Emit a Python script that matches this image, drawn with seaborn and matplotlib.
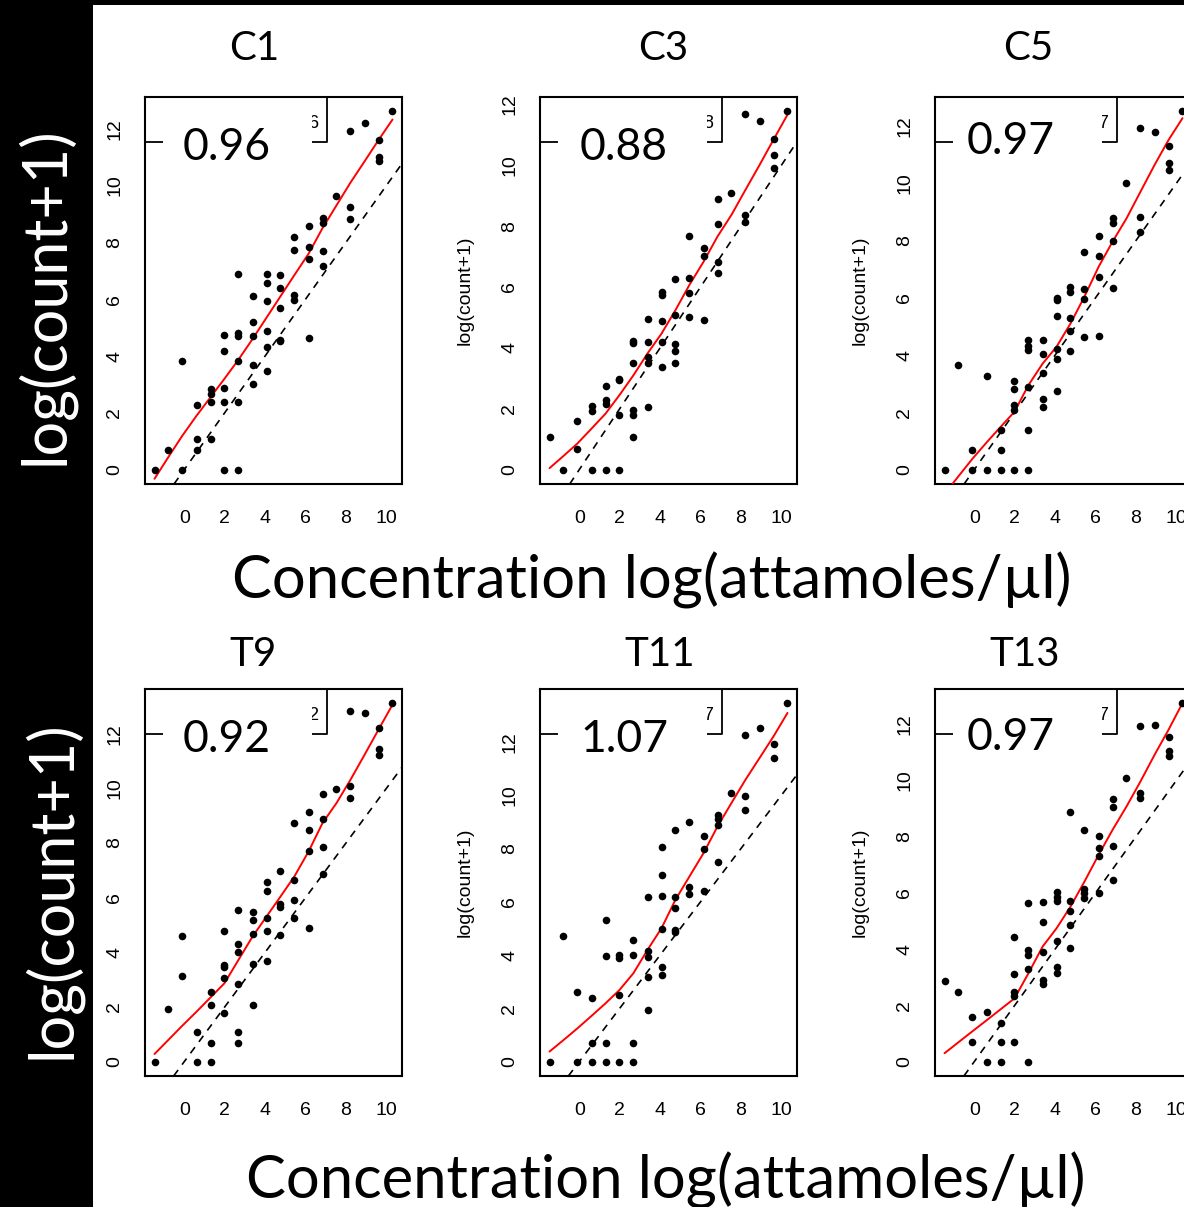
import numpy as np
import pandas as pd
import matplotlib
matplotlib.use("Agg")
import matplotlib.pyplot as plt
from matplotlib.patches import Rectangle
from matplotlib.lines import Line2D
import seaborn as sns

# ---- data -------------------------------------------------------------
# log(attamoles/ul) dilution levels of the spike-in series
CONC = [-1.47, -0.78, -0.09, 0.61, 1.30, 1.99, 2.68, 3.38, 4.07,
        4.76, 5.45, 6.15, 6.84, 7.53, 8.22, 8.92, 9.61, 10.30]

# log(count+1) observed at each level, one inner list per level
c1_counts = [[0], [0.68], [3.83, 0], [2.29, 1.09, 0.68], [2.83, 2.66, 2.39, 1.09],
             [4.74, 4.18, 2.89, 2.39, 0], [6.89, 4.80, 4.70, 3.83, 2.39, 0],
             [6.11, 5.21, 4.70, 3.68, 3.00], [6.89, 6.58, 5.95, 4.88, 4.33, 3.47],
             [6.85, 6.38, 5.68, 4.56, 4.52], [8.19, 7.72, 6.16, 5.97],
             [8.57, 7.84, 7.40, 4.62], [8.86, 8.67, 7.70, 7.17], [9.63],
             [11.93, 9.23, 8.82], [12.19], [11.60, 11.00, 10.85], [12.61]]
c3_counts = [[1.07], [0], [1.59, 0.68], [2.08, 1.93, 0], [2.76, 2.28, 2.17, 0],
             [2.98, 2.94, 1.79, 0], [4.23, 4.15, 3.49, 1.95, 1.79, 1.07],
             [4.96, 4.19, 3.71, 3.49, 2.06], [5.84, 5.73, 4.89, 4.20, 3.38],
             [6.26, 5.07, 4.12, 3.90, 3.49], [7.66, 6.31, 5.81, 5.02],
             [7.27, 7.03, 4.91], [8.90, 8.07, 6.81, 6.46], [9.09],
             [11.68, 8.37, 8.14], [11.45], [10.86, 10.35, 9.92], [11.77]]
c5_counts = [[0], [3.64], [0.68, 0], [3.27, 0], [1.37, 0.68, 0],
             [3.08, 2.83, 2.25, 2.07, 0], [4.54, 4.31, 4.17, 2.89, 1.37, 0],
             [4.54, 4.05, 3.39, 2.48, 2.19], [5.98, 5.92, 5.37, 4.23, 3.86, 2.76],
             [6.36, 6.19, 5.30, 4.85, 4.14], [7.61, 6.30, 5.97, 4.63],
             [8.16, 7.46, 6.73, 4.67], [8.78, 8.62, 7.98, 6.33], [10.00],
             [11.94, 8.81, 8.28], [11.79], [11.31, 10.70, 10.46], [12.51]]
t9_counts = [[0], [1.93], [4.58, 3.13], [1.10, 0], [2.56, 2.08, 0.70, 0],
             [4.77, 3.54, 3.45, 3.05, 1.79], [5.55, 4.31, 4.02, 2.83, 1.10, 0.70],
             [5.49, 5.19, 4.66, 3.58, 2.08], [6.56, 6.25, 5.25, 4.79, 3.67],
             [6.96, 5.77, 5.65, 4.63], [8.73, 6.63, 5.90, 5.26],
             [9.14, 8.46, 7.70, 4.90], [9.81, 8.86, 7.87, 6.87], [9.99],
             [12.84, 10.10, 9.64], [12.74], [12.20, 11.45, 11.23], [13.11]]
t11_counts = [[0], [4.72], [2.63, 0], [2.39, 0.69, 0], [5.32, 3.95, 0.69, 0],
              [4.01, 3.88, 2.51, 0], [4.57, 4.00, 0.69, 0],
              [6.18, 4.17, 3.91, 3.17, 1.94], [8.04, 7.00, 6.23, 4.97, 3.55, 3.24],
              [8.69, 6.18, 5.76, 4.95, 4.87], [8.98, 6.55, 6.29],
              [8.48, 7.98, 6.41], [9.27, 9.11, 8.88, 7.50], [10.07],
              [12.25, 9.98, 9.45], [12.51], [11.93, 11.39], [13.45]]
t13_counts = [[2.88], [2.48], [1.60, 0.69], [1.78, 0], [1.39, 0.69, 0],
              [4.45, 3.13, 2.49, 2.34, 0.69], [5.63, 3.97, 3.79, 3.28, 0],
              [5.69, 4.98, 3.91, 2.91, 2.76], [6.02, 5.87, 5.73, 4.30, 3.38, 3.14],
              [8.87, 5.72, 5.36, 4.86, 4.03], [8.24, 6.14, 5.99, 5.81],
              [8.03, 7.59, 7.32, 5.98], [9.33, 9.07, 7.68, 6.46], [10.09],
              [11.94, 9.55, 9.36], [11.98], [11.53, 11.03, 10.87], [12.74]]

# smoothed fit evaluated at each dilution level
c1_fit = [-0.32, 0.45, 1.20, 1.90, 2.55, 3.20, 3.87, 4.60, 5.35,
          6.10, 6.85, 7.60, 8.50, 9.30, 10.10, 10.85, 11.60, 12.32]
c3_fit = [0.05, 0.45, 0.86, 1.35, 1.84, 2.45, 3.10, 3.82, 4.47,
          5.24, 6.07, 6.83, 7.66, 8.37, 9.19, 10.01, 10.84, 11.66]
c5_fit = [-0.85, -0.23, 0.38, 0.95, 1.49, 2.02, 2.95, 3.70, 4.29,
          5.10, 6.04, 7.08, 7.96, 8.77, 9.70, 10.64, 11.51, 12.27]
t9_fit = [0.28, 0.80, 1.32, 1.83, 2.35, 2.87, 3.72, 4.58, 5.31,
          6.04, 6.78, 7.69, 8.73, 9.46, 10.31, 11.23, 12.15, 13.06]
t11_fit = [0.38, 0.81, 1.25, 1.72, 2.19, 2.69, 3.32, 4.20, 5.01,
           6.08, 6.95, 7.83, 8.83, 9.71, 10.58, 11.40, 12.21, 13.09]
t13_fit = [0.30, 0.69, 1.08, 1.47, 1.86, 2.25, 3.14, 4.09, 4.74,
           5.51, 6.40, 7.35, 8.24, 9.07, 9.96, 10.91, 11.80, 12.75]

SAMPLES = ["C1", "C3", "C5", "T9", "T11", "T13"]
SLOPES = ["0.96", "0.88", "0.97", "0.92", "1.07", "0.97"]
COUNTS = [c1_counts, c3_counts, c5_counts, t9_counts, t11_counts, t13_counts]
FITS = [c1_fit, c3_fit, c5_fit, t9_fit, t11_fit, t13_fit]

XTICKS = [0, 2, 4, 6, 8, 10]
YTICKS = [0, 2, 4, 6, 8, 10, 12]
XLABEL = "Concentration log(attamoles/\u00b5l)"
YLABEL = "log(count+1)"

# ---- style ------------------------------------------------------------
sns.set_theme(style="white")
plt.rcParams["font.family"] = ["Liberation Sans", "DejaVu Sans"]
BIG_FONT = ["Lato", "DejaVu Sans"]

W, H = 1184, 1207
fig = plt.figure(figsize=(W / 100, H / 100), dpi=100)
fig.patch.set_facecolor("white")


def fx(px):
    return px / W


def fy(py):
    return 1 - py / H


# black band on the left and thin strip on top
fig.add_artist(Rectangle((0, 0), fx(93), 1, transform=fig.transFigure,
                         facecolor="black", edgecolor="none", zorder=0))
fig.add_artist(Rectangle((fx(93), fy(5)), 1, 5 / H, transform=fig.transFigure,
                         facecolor="black", edgecolor="none", zorder=0))

COL_LEFT = [145, 540, 935]
ROW_TOP = [97, 689]
AX_W, AX_H = 257, 387
NUM_DX = [38, 40, 32, 38, 40, 32]   # left offset of each slope number
NUM_DY = [50, 50, 45, 50, 50, 49]   # vertical centre of each slope number
TITLE_X = [[254, 663, 1028], [253, 660, 1025]]
TITLE_Y = [49, 654]

for i, name in enumerate(SAMPLES):
    r, c = divmod(i, 3)
    left, top = COL_LEFT[c], ROW_TOP[r]
    ax = fig.add_axes([fx(left), fy(top + AX_H), AX_W / W, AX_H / H])

    rows = [(x, y) for x, ys in zip(CONC, COUNTS[i]) for y in ys]
    df = pd.DataFrame(rows, columns=["conc", "count"])

    sns.lineplot(x=CONC, y=FITS[i], color="red", linewidth=1.4, sort=False,
                 ax=ax, zorder=3)
    ax.axline((0, 0), slope=1, color="black", linewidth=1.2,
              linestyle=(0, (4.5, 4)), zorder=2)
    sns.scatterplot(data=df, x="conc", y="count", color="black", s=30,
                    linewidth=0, ax=ax, zorder=4)

    # R-style 4% padding of the data range
    xr = max(CONC) - min(CONC)
    ax.set_xlim(min(CONC) - 0.04 * xr, max(CONC) + 0.04 * xr)
    ymin, ymax = df["count"].min(), df["count"].max()
    yr = ymax - ymin
    ax.set_ylim(ymin - 0.04 * yr, ymax + 0.04 * yr)

    ax.set_xticks(XTICKS)
    ax.set_yticks(YTICKS)
    ax.set_xticklabels([str(t) for t in XTICKS])
    ax.set_yticklabels([str(t) for t in YTICKS], rotation=90, va="center")
    ax.tick_params(axis="both", direction="out", length=8.6, width=1.2,
                   color="black", labelsize=14, labelcolor="black")
    ax.tick_params(axis="x", pad=10)
    ax.tick_params(axis="y", pad=7)
    ax.set_xlabel("")
    if c == 0:
        ax.set_ylabel("")
    else:
        ax.set_ylabel(YLABEL, fontsize=14, labelpad=20, color="black")
    for sp in ax.spines.values():
        sp.set_visible(True)
        sp.set_color("black")
        sp.set_linewidth(1.5)
    ax.grid(False)

    # legend frame in the top-left corner, partly covered by the slope label
    def ax_pt(dx, dy):
        return dx / AX_W, 1 - dy / AX_H

    x0, y0 = ax_pt(0, 0)
    x1, y1 = ax_pt(182, 45)
    ax.add_line(Line2D([x0, x1, x1, x0], [y1, y1, y0, y0], transform=ax.transAxes,
                       color="black", linewidth=1.3, zorder=5, clip_on=False))
    tx, ty = ax_pt(173, 31)
    ax.text(tx, ty, SLOPES[i][-1], transform=ax.transAxes, ha="right",
            va="baseline", fontsize=13, color="black", zorder=5)
    px0, py0 = ax_pt(18, 1.5)
    px1, py1 = ax_pt(167, 80)
    ax.add_patch(Rectangle((px0, py1), px1 - px0, py0 - py1, transform=ax.transAxes,
                           facecolor="white", edgecolor="none", zorder=6))
    nx, ny = ax_pt(NUM_DX[i], NUM_DY[i])
    ax.text(nx, ny, SLOPES[i], transform=ax.transAxes, ha="left", va="center",
            fontsize=32, family=BIG_FONT, color="black", zorder=7)

    fig.text(fx(TITLE_X[r][c]), fy(TITLE_Y[r]), name, ha="center", va="center",
             fontsize=29, family=BIG_FONT, color="black")

# shared axis titles
fig.text(fx(652), fy(580), XLABEL, ha="center", va="center", fontsize=43,
         family=BIG_FONT, color="black")
fig.text(fx(666), fy(1180), XLABEL, ha="center", va="center", fontsize=43,
         family=BIG_FONT, color="black")
fig.text(fx(45), fy(296), YLABEL, ha="center", va="center", rotation=90,
         fontsize=44, family=BIG_FONT, color="white")
fig.text(fx(52), fy(890), YLABEL, ha="center", va="center", rotation=90,
         fontsize=44, family=BIG_FONT, color="white")

fig.savefig("out.png", dpi=100, facecolor="white")
